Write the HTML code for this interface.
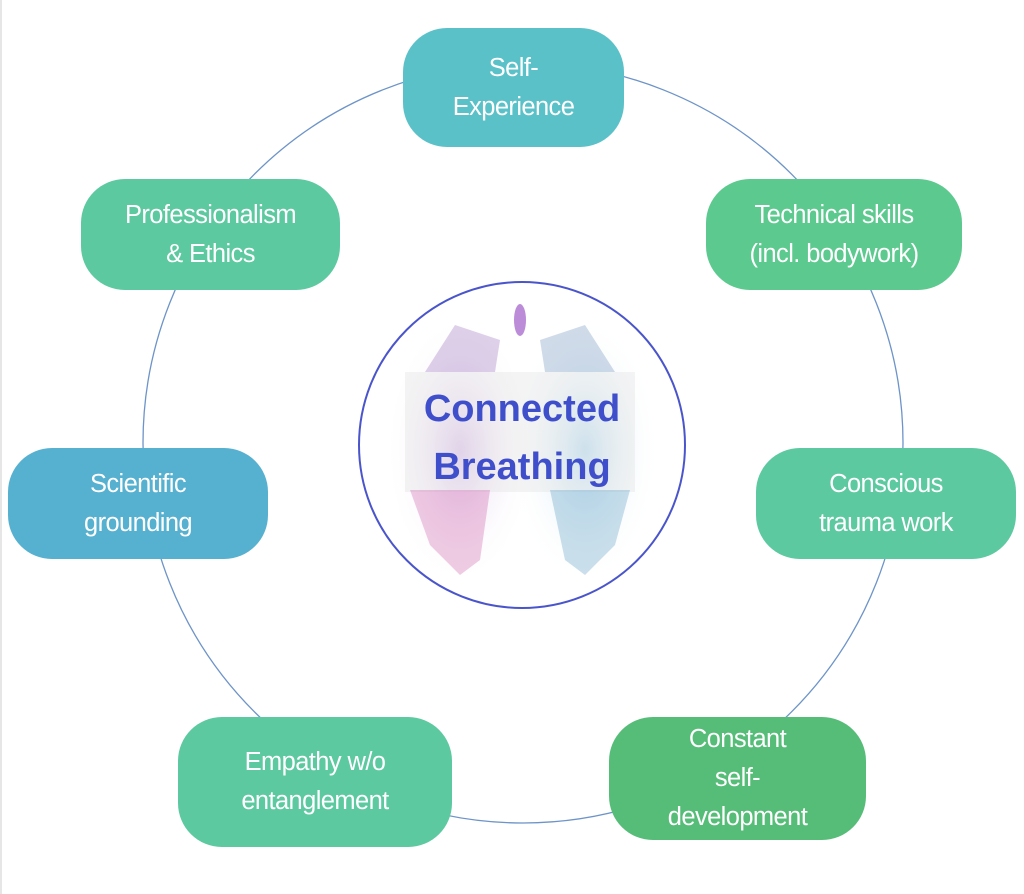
<!DOCTYPE html>
<html><head><meta charset="utf-8"><style>
html,body{margin:0;padding:0;background:#fff;}
body{width:1024px;height:894px;position:relative;overflow:hidden;font-family:"Liberation Sans",sans-serif;}
.b{position:absolute;border-radius:44px;color:#fff;display:flex;align-items:center;justify-content:center;text-align:center;font-size:25.5px;line-height:39px;letter-spacing:-0.6px;}
</style></head><body>
<div style="position:absolute;left:0;top:0;width:2px;height:894px;background:#e6e6e6"></div>
<svg width="1024" height="894" style="position:absolute;left:0;top:0">
<defs>
<radialGradient id="gl" cx="50%" cy="50%" r="50%"><stop offset="0" stop-color="#c9a0e0" stop-opacity=".5"/><stop offset="1" stop-color="#fff" stop-opacity="0"/></radialGradient>
<radialGradient id="gr" cx="50%" cy="50%" r="50%"><stop offset="0" stop-color="#90c8e8" stop-opacity=".5"/><stop offset="1" stop-color="#fff" stop-opacity="0"/></radialGradient>
</defs>
<circle cx="523" cy="443" r="380" fill="none" stroke="#6d94c8" stroke-width="1.3"/>
<circle cx="522" cy="445" r="163" fill="#fff" stroke="#4a55cc" stroke-width="2"/>
<ellipse cx="460" cy="450" rx="75" ry="135" fill="url(#gl)"/>
<ellipse cx="585" cy="450" rx="75" ry="135" fill="url(#gr)"/>
<rect x="405" y="372" width="230" height="120" fill="#dcdcdc" opacity=".3"/>
<ellipse cx="520" cy="320" rx="6" ry="16" fill="#9040c0" opacity=".6"/>
<path d="M425 372 L455 325 L500 340 L495 372 Z" fill="#6a2a9a" opacity=".22"/>
<path d="M615 372 L585 325 L540 340 L545 372 Z" fill="#2a5a9a" opacity=".22"/>
<path d="M410 490 L490 490 L480 560 L460 575 L430 545 Z" fill="#c03090" opacity=".25"/>
<path d="M630 490 L550 490 L565 560 L585 575 L615 545 Z" fill="#2a80b0" opacity=".25"/>
<text x="522" y="421" text-anchor="middle" font-family="Liberation Sans,sans-serif" font-weight="bold" font-size="38" fill="#3f4fcc">Connected</text>
<text x="522" y="479" text-anchor="middle" font-family="Liberation Sans,sans-serif" font-weight="bold" font-size="38" fill="#3f4fcc">Breathing</text>
</svg>
<div class="b" style="left:403px;top:28px;width:221px;height:119px;background:#5bc1c8">Self-<br>Experience</div>
<div class="b" style="left:81px;top:179px;width:259px;height:111px;background:#5cc9a0">Professionalism<br>&amp; Ethics</div>
<div class="b" style="left:706px;top:179px;width:256px;height:111px;background:#5cc98e">Technical skills<br>(incl. bodywork)</div>
<div class="b" style="left:8px;top:448px;width:260px;height:111px;background:#56b0d0">Scientific<br>grounding</div>
<div class="b" style="left:756px;top:448px;width:260px;height:111px;background:#5cc9a0">Conscious<br>trauma work</div>
<div class="b" style="left:178px;top:717px;width:274px;height:130px;background:#5cc9a0">Empathy w/o<br>entanglement</div>
<div class="b" style="left:609px;top:717px;width:257px;height:123px;background:#56bd78">Constant<br>self-<br>development</div>
</body></html>
